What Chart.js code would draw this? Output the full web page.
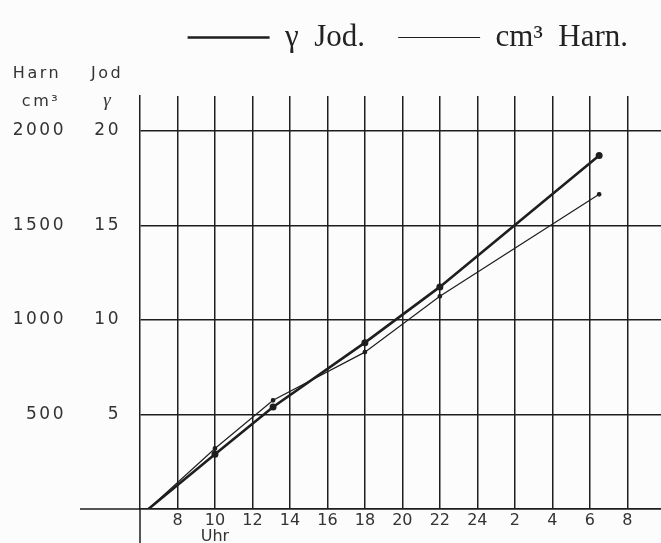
<!DOCTYPE html>
<html>
<head>
<meta charset="utf-8">
<script src="https://cdn.jsdelivr.net/npm/chart.js@4.4.0/dist/chart.umd.min.js"></script>
<style>
	html, body { margin: 0; padding: 0; background: #fcfcfc; }
	#wrap { width: 661px; height: 543px; position: relative; }
</style>
</head>
<body>
<div id="wrap"><canvas id="jodChart"></canvas></div>
<script>
(function(){
	'use strict';

	// Uhrzeit in Stunden ab 0 Uhr des ersten Tages (30.5 = 6.30 Uhr am Folgetag)
	var hours = [6.45, 10, 13.1, 18, 22, 30.5];
	var jod = [0, 2.9, 5.4, 8.8, 11.75, 18.7];
	var harn = [0, 320, 575, 830, 1125, 1665];

	var jodTicks = [5, 10, 15, 20];
	var harnTicks = [500, 1000, 1500, 2000];
	var hourTicks = [8, 10, 12, 14, 16, 18, 20, 22, 24, 26, 28, 30, 32];

	var ink = '#1e1e1e';
	var txt = '#333';

	function onlyTicks(list){
		return function(scale){
			scale.ticks = list.map(function(v){ return {value: v}; });
		};
	}

	function spaced(scale, px){
		var orig = scale.drawLabels.bind(scale);
		scale.drawLabels = function(area){
			var c = scale.ctx;
			c.save();
			c.letterSpacing = px;
			orig(area);
			c.restore();
		};
		scale._spaced = true;
	}

	var axisExtras = {
		id: 'axisExtras',
		afterLayout: function(chart){
			['y', 'yH'].forEach(function(id){
				if(!chart.scales[id]._spaced){
					spaced(chart.scales[id], '2.5px');
				}
			});
		},
		afterDraw: function(chart){
			var c = chart.ctx;
			var a = chart.chartArea;
			c.save();
			c.strokeStyle = ink;
			c.lineWidth = 1.5;
			c.beginPath();
			c.moveTo(80, a.bottom);
			c.lineTo(a.left, a.bottom);
			c.moveTo(a.left, a.bottom);
			c.lineTo(a.left, chart.height);
			c.stroke();

			c.fillStyle = txt;
			c.textAlign = 'center';
			c.textBaseline = 'middle';
			c.letterSpacing = '2.5px';
			c.font = '16px "DejaVu Sans"';
			c.fillText('Harn', 37, 74);
			c.fillText('Jod', 107, 74);
			c.fillText('cm³', 41, 102);
			c.letterSpacing = '0px';
			c.font = 'italic 19px "Liberation Serif"';
			c.fillText('γ', 107, 101);
			c.restore();
		}
	};

	var ctx = document.getElementById('jodChart').getContext('2d');
	new Chart(ctx, {
		type: 'line',
		data: {
			datasets: [{
				label: 'γ  Jod.',
				data: hours.map(function(h, i){ return {x: h, y: jod[i]}; }),
				yAxisID: 'y',
				borderColor: ink,
				backgroundColor: ink,
				borderWidth: 2.6,
				pointRadius: function(c){ return c.dataIndex === 0 ? 0 : 2.2; },
				tension: 0
			}, {
				label: 'cm³  Harn.',
				data: hours.map(function(h, i){ return {x: h, y: harn[i]}; }),
				yAxisID: 'yH',
				borderColor: ink,
				backgroundColor: ink,
				borderWidth: 1.2,
				pointRadius: function(c){ return c.dataIndex === 0 ? 0 : 1.8; },
				tension: 0
			}]
		},
		options: {
			responsive: true,
			maintainAspectRatio: false,
			animation: false,
			layout: {
				autoPadding: false,
				padding: { top: -11, left: 0, right: 0, bottom: 0 }
			},
			plugins: {
				tooltip: { enabled: false },
				// leerer Titel als Abstand zwischen Legende und Gitter
				title: {
					display: true,
					text: '',
					weight: 500,
					padding: 0,
					font: { size: 33, lineHeight: 1 }
				},
				legend: {
					position: 'top',
					align: 'end',
					labels: {
						usePointStyle: true,
						pointStyle: 'line',
						pointStyleWidth: 82,
						padding: 33,
						color: '#222',
						font: { family: '"Liberation Serif"', size: 31 }
					}
				}
			},
			scales: {
				x: {
					type: 'linear',
					min: 6,
					max: 33.8,
					afterBuildTicks: onlyTicks(hourTicks),
					afterFit: function(s){ s.height = 34; },
					grid: { color: ink, lineWidth: 1.5, drawTicks: false },
					border: { display: true, color: ink, width: 1.5 },
					ticks: {
						autoSkip: false,
						maxRotation: 0,
						padding: 4,
						color: txt,
						font: { family: '"DejaVu Sans"', size: 16, lineHeight: 1.0 },
						callback: function(v){
							var h = v > 24 ? v - 24 : v;
							return h === 10 ? ['10', 'Uhr'] : String(h);
						}
					}
				},
				y: {
					position: 'left',
					weight: 0,
					min: 0,
					max: 21.85,
					afterBuildTicks: onlyTicks([0].concat(jodTicks)),
					afterFit: function(s){ s.width = 65; },
					grid: { color: ink, lineWidth: 1.5, drawTicks: false },
					border: { display: true, color: ink, width: 1.5 },
					ticks: {
						padding: 19,
						color: txt,
						font: { family: '"DejaVu Sans"', size: 17 },
						callback: function(v){ return v === 0 ? '' : String(v); }
					}
				},
				yH: {
					position: 'left',
					weight: 1,
					min: 0,
					max: 2185,
					afterBuildTicks: onlyTicks(harnTicks),
					afterFit: function(s){ s.width = 75; },
					grid: { display: false },
					border: { display: false },
					ticks: {
						padding: 1,
						color: txt,
						font: { family: '"DejaVu Sans"', size: 17 },
						callback: function(v){ return String(v); }
					}
				}
			}
		},
		plugins: [axisExtras]
	});
})();
</script>
</body>
</html>
